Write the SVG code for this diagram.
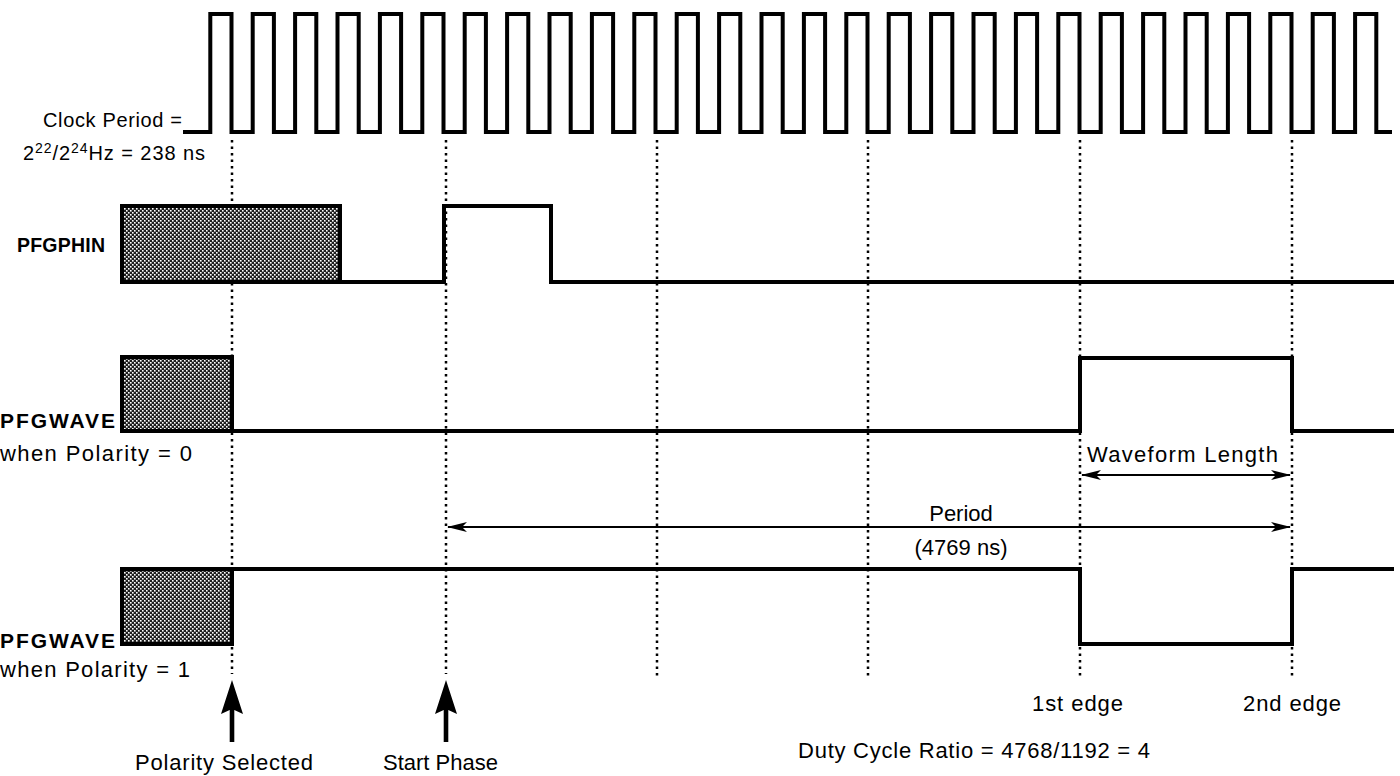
<svg xmlns="http://www.w3.org/2000/svg" width="1400" height="776" viewBox="0 0 1400 776">
<defs>
<pattern id="stip" width="4" height="4" patternUnits="userSpaceOnUse">
<rect width="4" height="4" fill="#1e1e1e"/>
<rect x="0" y="0" width="1.6" height="1.6" fill="#fff"/>
<rect x="2" y="2" width="1.6" height="1.6" fill="#fff"/>
</pattern>
<marker id="ah" viewBox="0 0 20 10" refX="19" refY="5" markerWidth="20" markerHeight="10" markerUnits="userSpaceOnUse" orient="auto-start-reverse">
<path d="M0,0 L20,5 L0,10 L5,5 Z" fill="#000"/>
</marker>
</defs>
<style>
text{font-family:"Liberation Sans",Arial,sans-serif;fill:#000;font-size:22px}
.s{font-size:20px}
.b{font-weight:bold;font-size:21px}
.sig{fill:none;stroke:#000;stroke-width:4;stroke-linejoin:miter;stroke-linecap:square}
.box{fill:url(#stip);stroke:#000;stroke-width:4}
.dot{stroke:#000;stroke-width:2.5;stroke-dasharray:2.5 4;fill:none}
.dim{stroke:#000;stroke-width:2;fill:none}
</style>
<rect width="1400" height="776" fill="#fff"/>

<g id="guides">
<line class="dot" x1="232" y1="140" x2="232" y2="674"/>
<line class="dot" x1="446" y1="140" x2="446" y2="674"/>
<line class="dot" x1="657" y1="140" x2="657" y2="678"/>
<line class="dot" x1="868" y1="140" x2="868" y2="678"/>
<line class="dot" x1="1080" y1="140" x2="1080" y2="677"/>
<line class="dot" x1="1292" y1="140" x2="1292" y2="677"/>
</g>

<g id="clock">
<path class="sig" d="M185,132 H210.3 V14 H231.5 V132 H252.7 V14 H273.9 V132 H295.1 V14 H316.3 V132 H337.5 V14 H358.7 V132 H379.9 V14 H401.1 V132 H422.3 V14 H443.5 V132 H464.7 V14 H485.9 V132 H507.1 V14 H528.3 V132 H549.5 V14 H570.7 V132 H591.9 V14 H613.1 V132 H634.3 V14 H655.5 V132 H676.7 V14 H697.9 V132 H719.1 V14 H740.3 V132 H761.5 V14 H782.7 V132 H803.9 V14 H825.1 V132 H846.3 V14 H867.5 V132 H888.7 V14 H909.9 V132 H931.1 V14 H952.3 V132 H973.5 V14 H994.7 V132 H1015.9 V14 H1037.1 V132 H1058.3 V14 H1079.5 V132 H1100.7 V14 H1121.9 V132 H1143.1 V14 H1164.3 V132 H1185.5 V14 H1206.7 V132 H1227.9 V14 H1249.1 V132 H1270.3 V14 H1291.5 V132 H1312.7 V14 H1333.9 V132 H1355.1 V14 H1376.3 V132 H1390"/>
<text class="s" x="43" y="127" textLength="139" lengthAdjust="spacing">Clock Period =</text>
<text class="s" x="23" y="160" textLength="182" lengthAdjust="spacing">2<tspan dy="-7" font-size="14">22</tspan><tspan dy="7">/2</tspan><tspan dy="-7" font-size="14">24</tspan><tspan dy="7">Hz = 238 ns</tspan></text>
</g>

<g id="pfgphin">
<rect class="box" x="122" y="206" width="218" height="76"/>
<path class="sig" d="M340,282 H444 V206 H551 V282 H1392"/>
<text class="b" x="17" y="252" textLength="88" lengthAdjust="spacing" style="font-size:19.5px">PFGPHIN</text>
</g>

<g id="pfgwave0">
<rect class="box" x="122" y="357" width="110" height="74"/>
<path class="sig" d="M232,431 H1080 V358 H1292 V431 H1392"/>
<text class="b" x="0" y="428" textLength="115" lengthAdjust="spacing">PFGWAVE</text>
<text x="0" y="461" textLength="192" lengthAdjust="spacing">when Polarity = 0</text>
</g>

<g id="pfgwave1">
<rect class="box" x="122" y="569" width="110" height="75"/>
<path class="sig" d="M232,569 H1080 V644 H1292 V569 H1392"/>
<text class="b" x="0" y="648" textLength="115" lengthAdjust="spacing">PFGWAVE</text>
<text x="0" y="677" textLength="190" lengthAdjust="spacing">when Polarity = 1</text>
</g>

<g id="connectors">
<line class="dim" x1="1082" y1="475" x2="1290" y2="475" marker-start="url(#ah)" marker-end="url(#ah)"/>
<line class="dim" x1="448" y1="527" x2="1290" y2="527" marker-start="url(#ah)" marker-end="url(#ah)"/>
<path d="M232,680 L243,714 L234.3,710 L234.3,742 L229.7,742 L229.7,710 L221,714 Z" fill="#000"/>
<path d="M446,680 L457,714 L448.3,710 L448.3,742 L443.7,742 L443.7,710 L435,714 Z" fill="#000"/>
</g>

<g id="labels">
<text x="1087" y="462" textLength="191" lengthAdjust="spacing">Waveform Length</text>
<text x="961" y="521" text-anchor="middle">Period</text>
<text x="961" y="555" text-anchor="middle">(4769 ns)</text>
<text x="1032" y="711" textLength="91" lengthAdjust="spacing">1st edge</text>
<text x="1243" y="711" textLength="98" lengthAdjust="spacing">2nd edge</text>
<text x="798" y="758" textLength="352" lengthAdjust="spacing">Duty Cycle Ratio = 4768/1192 = 4</text>
<text x="135" y="770" textLength="178" lengthAdjust="spacing">Polarity Selected</text>
<text x="383" y="770">Start Phase</text>
</g>
</svg>
